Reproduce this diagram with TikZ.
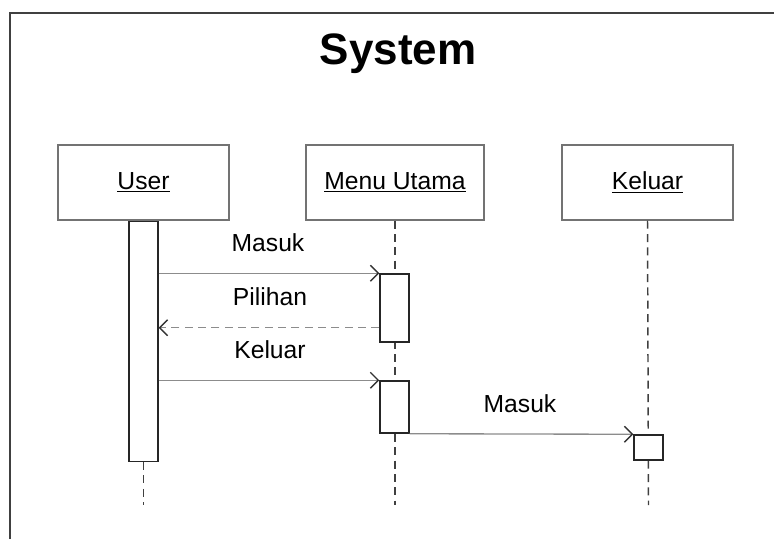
\documentclass[tikz,border=0pt]{standalone}
\usepackage{fontspec}
\setmainfont{Liberation Sans}
\usetikzlibrary{arrows.meta}

\begin{document}
\begin{tikzpicture}[x=0.75pt,y=-0.75pt,
    objbox/.style={draw=black!55, line width=1pt, fill=white, minimum width=171*0.75pt, minimum height=75*0.75pt, inner sep=0pt, font=\fontsize{18.5}{22}\selectfont},
    actbar/.style={draw=black!85, line width=1.1pt, fill=white, minimum width=29*0.75pt, inner sep=0pt},
    lifeline/.style={draw=black!75, line width=1.1pt, dash pattern=on 6pt off 4pt},
    msg/.style={draw=black!45, line width=1pt, -{Straight Barb[length=6pt,width=12pt,line width=1pt,color=black!80]}},
    retmsg/.style={msg, dash pattern=on 6pt off 4pt},
    msglabel/.style={font=\fontsize{18.5}{22}\selectfont, inner sep=0pt}]
    \useasboundingbox (0,0) rectangle (774,539);

    % frame
    \draw [black!75, line width=2.2pt] (10,539) -- (10,13) -- (774,13);
    \node (title) at (398,54) {\fontsize{33}{38}\selectfont\bfseries System};

    % objects
    \node [objbox] (user) at (143.5,182.5) {\underline{User}};
    \node [objbox, minimum width=178*0.75pt] (menu) at (395,182.5) {\underline{Menu Utama}};
    \node [objbox] (keluar) at (647.5,182.5) {\underline{Keluar}};

    \coordinate (uend) at (143.5,505);
    \coordinate (mend) at (395,505);
    \coordinate (kend) at (648.5,505);

    % lifelines
    \draw [lifeline] (menu.south) -- (mend);
    \draw [lifeline] (keluar.south) -- (kend);

    % activations
    \node [actbar, minimum height=240*0.75pt, anchor=north] (ubar) at (user.south) {};
    \draw [lifeline] (ubar.south) -- (uend);
    \node [actbar, minimum height=68*0.75pt] (mact1) at (394.5,308) {};
    \node [actbar, minimum height=52*0.75pt] (mact2) at (394.5,407) {};
    \node [actbar, minimum height=25*0.75pt] (kact) at (648.5,447.5) {};
    \coordinate (ret) at ([yshift=11.25pt]mact1.south west);

    % messages
    \draw [msg] (ubar.east |- mact1.north) -- (mact1.north west);
    \node [msglabel] (lmasuk) at (268,243) {Masuk};
    \draw [retmsg] (ret) -- (ubar.east |- ret);
    \node [msglabel] (lpilihan) at (270,297) {Pilihan};
    \draw [msg] (ubar.east |- mact2.north) -- (mact2.north west);
    \node [msglabel] (lkeluar) at (270,350) {Keluar};
    \draw [msg] (mact2.south east) -- (kact.north west);
    \node [msglabel] (lmasuk2) at (520,404) {Masuk};
\end{tikzpicture}
\end{document}
